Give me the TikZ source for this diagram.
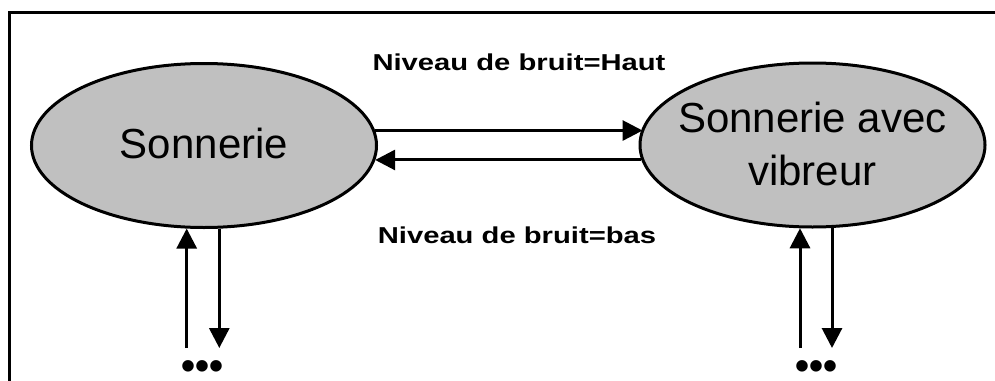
\documentclass[tikz,border=0pt]{standalone}
\usepackage{fontspec}
\setmainfont{Liberation Sans}
\newfontfamily\lblfont{Liberation Sans Bold}[FakeStretch=1.27]
\usetikzlibrary{arrows.meta,shapes.geometric}
\definecolor{stategray}{HTML}{C0C0C0}
\tikzset{
  state/.style={ellipse, draw=black, line width=3pt, fill=stategray, inner sep=0pt,
    minimum width=345pt, minimum height=164pt},
  statetext/.style={align=center, inner sep=0pt, font=\fontsize{42}{53}\selectfont},
  arr/.style={line width=3pt, -{Triangle[length=20pt,width=20pt]}},
  lbl/.style={font=\lblfont\fontsize{23}{27}\selectfont, inner sep=0pt},
  dots/.style={font=\bfseries\fontsize{40}{40}\selectfont, inner sep=0pt, anchor=base,
    text height=22pt, text depth=0pt}
}
\begin{document}
\begin{tikzpicture}[x=1pt,y=-1pt]
\useasboundingbox (0,0) rectangle (995,380);
% frame
\draw[line width=3.3pt] (995,12.5) -- (9.7,12.5) -- (9.7,390);
% states
\node[state] (L) at (204,145.5) {};
\node[statetext] (Lt) at (204,143.5) {Sonnerie};
\node[state] (R) at (812.5,145) {};
\node[statetext] (Rt) at (812.5,143.5) {Sonnerie avec\\vibreur};
% labels
\node[lbl] (top) at (519,62) {Niveau de bruit=Haut};
\node[lbl] (bot) at (517,235) {Niveau de bruit=bas};
% horizontal transitions
\draw[arr] (L.5.4) -- (L.5.4 -| R.174.8);
\draw[arr] (R.185.8) -- (R.185.8 -| L.-5.6);
% vertical transitions left
\coordinate (lup) at (186.7,348);
\coordinate (ldn) at (219.3,348);
\draw[arr] (lup) -- (lup |- L.258.2);
\draw[arr] (ldn |- L.280.4) -- (ldn);
\node[dots] (ldots) at (202.5,379) {•••};
% vertical transitions right
\coordinate (rup) at (800,348);
\coordinate (rdn) at (832,348);
\draw[arr] (rup) -- (rup |- R.261.4);
\draw[arr] (rdn |- R.283.2) -- (rdn);
\node[dots] (rdots) at (816.5,379) {•••};
\end{tikzpicture}
\end{document}
